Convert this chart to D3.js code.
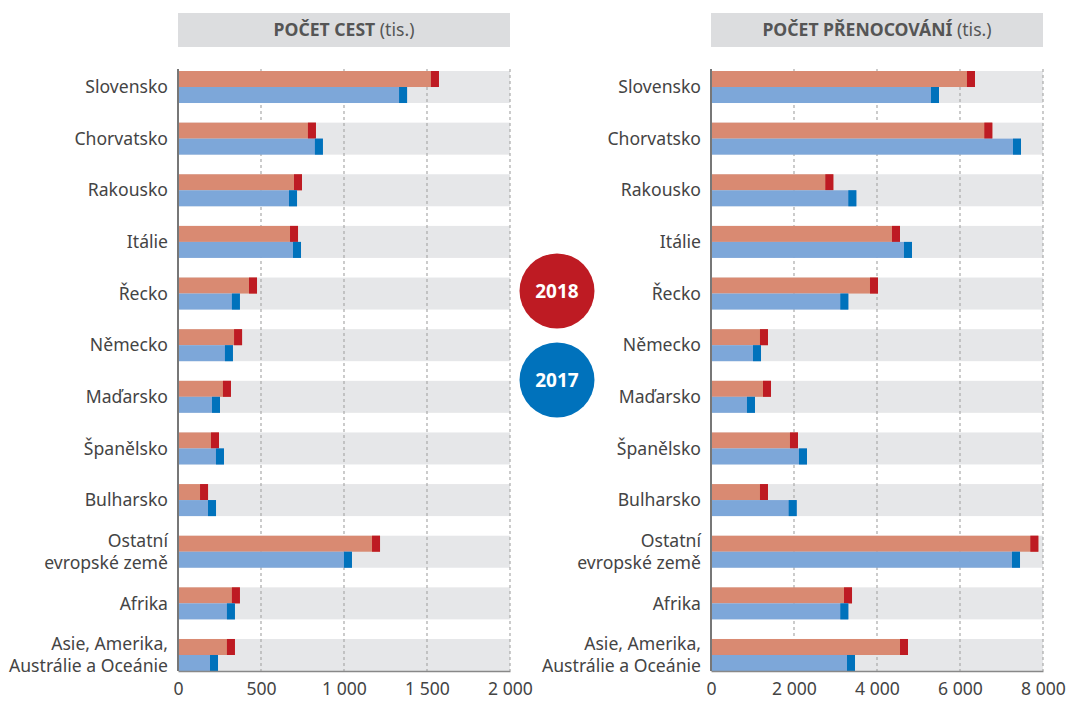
<!DOCTYPE html>
<html>
<head>
<meta charset="utf-8">
<script src="https://cdn.jsdelivr.net/npm/d3@7"></script>
<style>
  body { margin: 0; background: #fff; }
  svg { display: block; font-family: "Noto Sans", "Open Sans", sans-serif; }
</style>
</head>
<body>
<div id="chart"></div>
<script>
// categories (line breaks with "|")
const categories = [
    "Slovensko", "Chorvatsko", "Rakousko", "Itálie", "Řecko", "Německo",
    "Maďarsko", "Španělsko", "Bulharsko", "Ostatní|evropské země", "Afrika",
    "Asie, Amerika,|Austrálie a Oceánie"
];

// počet cest (tis.)
const trips2018 = [1572, 831, 747, 723, 476, 386, 319, 247, 181, 1217, 373, 343];
const trips2017 = [1380, 873, 717, 741, 373, 331, 253, 277, 229, 1048, 343, 241];

// počet přenocování (tis.)
const nights2018 = [6361, 6779, 2948, 4554, 4024, 1373, 1446, 2096, 1373, 7888, 3398, 4747];
const nights2017 = [5494, 7470, 3502, 4843, 3309, 1205, 1060, 2313, 2065, 7446, 3309, 3470];

const tripTicks = [0, 500, 1000, 1500, 2000];
const tripTickLabels = ["0", "500", "1 000", "1 500", "2 000"];
const nightTicks = [0, 2000, 4000, 6000, 8000];
const nightTickLabels = ["0", "2 000", "4 000", "6 000", "8 000"];

const years = ["2018", "2017"];

const width = 1067;
const height = 701;

const colors = {
    light2018: "#d98a72",
    dark2018: "#be1b23",
    light2017: "#7da7d9",
    dark2017: "#0072bc",
    band: "#e6e7e9",
    header: "#dcdddf",
    text: "#444"
};

const svg = d3.select("#chart")
    .append("svg")
    .attr("width", width)
    .attr("height", height);

const y = d3.scaleBand()
    .domain(categories)
    .range([71, 671])
    .paddingInner(0.38)
    .paddingOuter(0);

const capWidth = 8;

function drawPanel(opts) {
    const x = d3.scaleLinear()
        .domain([0, opts.max])
        .range([opts.x0, opts.x1]);

    const g = svg.append("g");

    // header
    g.append("rect")
        .attr("x", opts.x0)
        .attr("y", 13)
        .attr("width", opts.x1 - opts.x0)
        .attr("height", 34)
        .attr("fill", colors.header);

    const title = g.append("text")
        .attr("x", (opts.x0 + opts.x1) / 2)
        .attr("y", 36)
        .attr("text-anchor", "middle")
        .attr("fill", "#555")
        .style("font-size", "17.6px");
    title.append("tspan").attr("font-weight", "bold").text(opts.title);
    title.append("tspan").text(" (tis.)");

    // background bands
    g.selectAll("rect.band")
        .data(categories)
        .enter().append("rect")
        .attr("class", "band")
        .attr("x", x(0))
        .attr("y", d => y(d))
        .attr("width", x(opts.max) - x(0))
        .attr("height", y.bandwidth())
        .attr("fill", colors.band);

    // dashed grid lines
    g.selectAll("line.grid")
        .data(opts.ticks.slice(1))
        .enter().append("line")
        .attr("class", "grid")
        .attr("x1", d => x(d))
        .attr("x2", d => x(d))
        .attr("y1", 69)
        .attr("y2", 671)
        .attr("stroke", "#aaa")
        .attr("stroke-width", 1.2)
        .attr("stroke-dasharray", "3,3");

    const half = y.bandwidth() / 2;
    const series = [
        { values: opts.v2018, light: colors.light2018, dark: colors.dark2018, offset: 0 },
        { values: opts.v2017, light: colors.light2017, dark: colors.dark2017, offset: half }
    ];

    series.forEach(s => {
        g.selectAll(null)
            .data(categories)
            .enter().append("rect")
            .attr("x", x(0))
            .attr("y", d => y(d) + s.offset)
            .attr("width", (d, i) => x(s.values[i]) - x(0))
            .attr("height", half)
            .attr("fill", s.light);

        g.selectAll(null)
            .data(categories)
            .enter().append("rect")
            .attr("x", (d, i) => x(s.values[i]) - capWidth)
            .attr("y", d => y(d) + s.offset)
            .attr("width", capWidth)
            .attr("height", half)
            .attr("fill", s.dark);
    });

    // category labels
    const labels = g.selectAll("text.cat")
        .data(categories)
        .enter().append("text")
        .attr("class", "cat")
        .attr("text-anchor", "end")
        .attr("fill", colors.text)
        .style("font-size", "17.6px");

    labels.each(function (d) {
        const lines = d.split("|");
        const cy = y(d) + half;
        const lineH = 22;
        const top = cy - (lines.length - 1) * lineH / 2;
        lines.forEach((line, j) => {
            d3.select(this).append("tspan")
                .attr("x", opts.x0 - 10)
                .attr("y", top + j * lineH)
                .attr("dy", "0.35em")
                .text(line);
        });
    });

    // bottom axis
    const axis = d3.axisBottom(x)
        .tickValues(opts.ticks)
        .tickFormat((d, i) => opts.tickLabels[i])
        .tickSize(0)
        .tickPadding(12);

    const ag = g.append("g")
        .attr("transform", "translate(0,671)")
        .call(axis);
    ag.select(".domain").attr("stroke", "#888").attr("stroke-width", 1.5);
    ag.selectAll("text")
        .attr("fill", colors.text)
        .style("font-size", "17.6px")
        .style("font-family", "'Noto Sans', sans-serif");

    // left axis line
    g.append("line")
        .attr("x1", x(0))
        .attr("x2", x(0))
        .attr("y1", 69)
        .attr("y2", 671)
        .attr("stroke", "#777")
        .attr("stroke-width", 2);
}

drawPanel({
    x0: 178, x1: 510, max: 2000,
    title: "POČET CEST",
    v2018: trips2018, v2017: trips2017,
    ticks: tripTicks, tickLabels: tripTickLabels
});

drawPanel({
    x0: 711, x1: 1043, max: 8000,
    title: "POČET PŘENOCOVÁNÍ",
    v2018: nights2018, v2017: nights2017,
    ticks: nightTicks, tickLabels: nightTickLabels
});

// year legend circles
const legend = svg.append("g");
const legendY = d3.scalePoint().domain(years).range([291, 380]);

legend.selectAll("circle")
    .data(years)
    .enter().append("circle")
    .attr("cx", 557)
    .attr("cy", d => legendY(d))
    .attr("r", 37.5)
    .attr("fill", d => d === "2018" ? colors.dark2018 : colors.dark2017);

legend.selectAll("text")
    .data(years)
    .enter().append("text")
    .attr("x", 557)
    .attr("y", d => legendY(d))
    .attr("dy", "0.36em")
    .attr("text-anchor", "middle")
    .attr("fill", "#fff")
    .attr("font-weight", "bold")
    .style("font-size", "19px")
    .text(d => d);
</script>
</body>
</html>
